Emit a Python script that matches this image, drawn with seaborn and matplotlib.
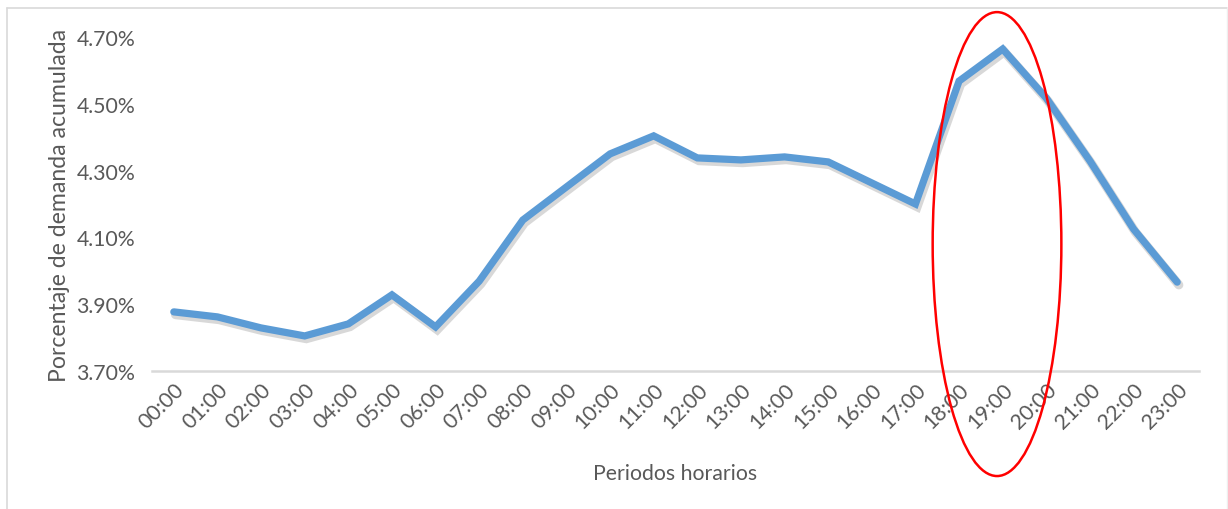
import matplotlib
matplotlib.use("Agg")
import matplotlib.pyplot as plt
import matplotlib.patheffects as pe
from matplotlib.patches import Ellipse
from matplotlib.lines import Line2D
from matplotlib.ticker import FuncFormatter
import pandas as pd
import seaborn as sns

# Hourly share of accumulated demand (%)
hours = [f"{h:02d}:00" for h in range(24)]
demand_pct = [3.877, 3.862, 3.829, 3.805, 3.841, 3.928, 3.832, 3.969,
              4.152, 4.251, 4.350, 4.404, 4.338, 4.332, 4.341, 4.326,
              4.263, 4.200, 4.568, 4.664, 4.517, 4.329, 4.125, 3.966]
y_ticks = [3.70, 3.90, 4.10, 4.30, 4.50, 4.70]

x_label = "Periodos horarios"
y_label = "Porcentaje de demanda acumulada"

df = pd.DataFrame({"hora": hours, "pct": demand_pct})
df["pos"] = range(len(df))

sns.set_theme(style="white")
plt.rcParams["font.family"] = ["Lato", "DejaVu Sans"]
text_color = "#595959"
fs = 15.3

fig = plt.figure(figsize=(12.28, 5.10), dpi=100)
ax = fig.add_axes([152 / 1228, 1 - 372 / 510, (1199 - 152) / 1228, (372 - 38) / 510])

sns.lineplot(data=df, x="pos", y="pct", ax=ax, color="#5B9BD5", linewidth=5.2,
             solid_joinstyle="miter", solid_capstyle="round",
             path_effects=[pe.SimpleLineShadow(offset=(1.2, -2.0), shadow_color="#7f7f7f",
                                               alpha=0.3, linewidth=6.5),
                           pe.Normal()])

ax.set_xlim(-0.5, len(hours) - 0.5)
ax.set_ylim(y_ticks[0], y_ticks[-1])
ax.set_xticks(df["pos"])
ax.set_xticklabels(hours, rotation=45, ha="right", rotation_mode="anchor",
                   fontsize=fs, color=text_color)
ax.set_yticks(y_ticks)
ax.yaxis.set_major_formatter(FuncFormatter(lambda v, _: f"{v:.2f}%"))
ax.tick_params(axis="y", labelsize=fs, labelcolor=text_color, length=0, pad=12)
ax.tick_params(axis="x", length=0, pad=6)

for side in ["top", "right", "left"]:
    ax.spines[side].set_visible(False)
ax.spines["bottom"].set_color("#D9D9D9")
ax.spines["bottom"].set_linewidth(1.8)

ax.set_xlabel(x_label, fontsize=fs, color=text_color, labelpad=22)
ax.set_ylabel(y_label, fontsize=fs + 1.3, color=text_color, labelpad=5)

# Red ellipse highlighting the evening peak
peak = Ellipse((18.87, 4.080), width=2.95, height=1.389, fill=False,
               edgecolor="#FF0000", linewidth=1.8, clip_on=False, zorder=5)
ax.add_patch(peak)

# Light chart-area frame
frame_kw = dict(color="#D9D9D9", linewidth=1.2, transform=fig.transFigure)
fig.add_artist(Line2D([7 / 1228, 7 / 1228], [0, 1 - 9 / 510], **frame_kw))
fig.add_artist(Line2D([7 / 1228, 1227 / 1228], [1 - 9 / 510, 1 - 9 / 510], **frame_kw))
fig.add_artist(Line2D([1227 / 1228, 1227 / 1228], [0, 1 - 9 / 510], color="#EEEEEE",
                      linewidth=1.0, transform=fig.transFigure))

fig.savefig("out.png", dpi=100)
